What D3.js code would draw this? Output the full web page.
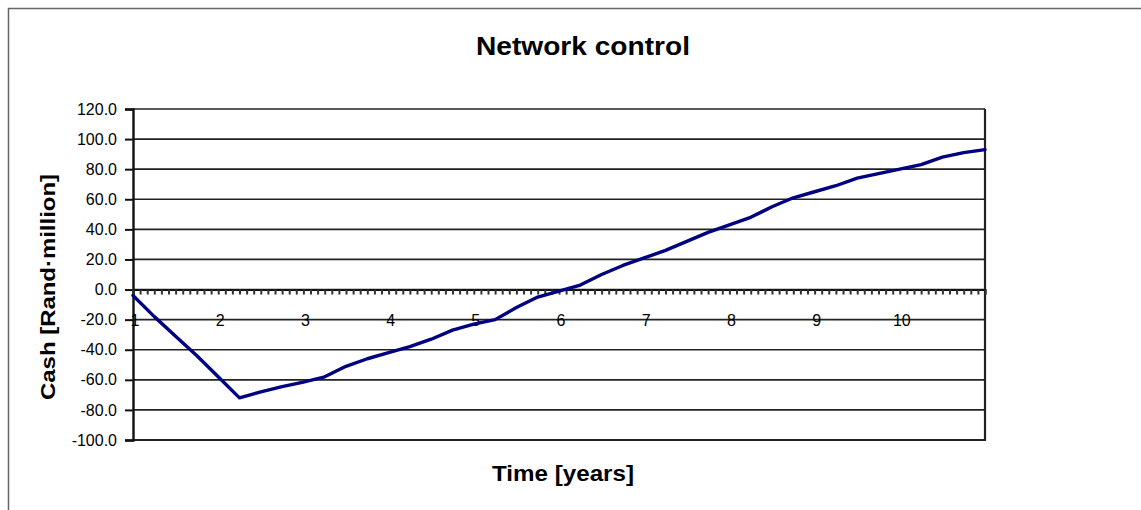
<!DOCTYPE html>
<html>
<head>
<meta charset="utf-8">
<script src="https://cdn.jsdelivr.net/npm/d3@7"></script>
<style>
  html, body { margin: 0; padding: 0; background: #fff; }
  svg { display: block; }
  text { font-family: "Liberation Sans", Arial, sans-serif; fill: #000; }
</style>
</head>
<body>
<svg id="chart" width="1141" height="510"></svg>
<script>
// Cumulative cash position, sampled quarterly (months from start of year 1)
const months = [0, 3, 6, 9, 12, 15, 18, 21, 24, 27, 30, 33, 36, 39, 42, 45, 48, 51, 54, 57,
                60, 63, 66, 69, 72, 75, 78, 81, 84, 87, 90, 93, 96, 99, 102, 105, 108, 111, 114, 117, 120];
const cash = [-4, -18, -31, -44, -58, -72, -68, -64.5, -61.5, -58, -51, -46, -42, -38, -33, -27, -23, -20, -12, -5,
              -1, 3, 10, 16, 21, 26, 32, 38, 43, 48, 55, 61, 65, 69, 74, 77, 80, 83, 88, 91, 93];
const yearLabels = ["1", "2", "3", "4", "5", "6", "7", "8", "9", "10"];
const yTicks = [120, 100, 80, 60, 40, 20, 0, -20, -40, -60, -80, -100];

const title = "Network control";
const xTitle = "Time [years]";
const yTitle = "Cash [Rand\u00B7million]";

const svg = d3.select("#chart");
const plot = { left: 133, right: 985, top: 109, bottom: 440 };

// Outer chart frame (left and top edges visible)
svg.append("path")
  .attr("d", "M8.5,510 L8.5,8.5 L1141,8.5")
  .attr("fill", "none").attr("stroke", "#666").attr("stroke-width", 1.5);

const x = d3.scaleLinear().domain([0, 120]).range([plot.left, plot.right]);
const y = d3.scaleLinear().domain([-100, 120]).range([plot.bottom, plot.top]);

// Horizontal gridlines
svg.append("g")
  .selectAll("line")
  .data(yTicks)
  .join("line")
  .attr("x1", plot.left).attr("x2", plot.right)
  .attr("y1", d => y(d)).attr("y2", d => y(d))
  .attr("stroke", "#222").attr("stroke-width", 1.7);

// Plot border: right and bottom
svg.append("path")
  .attr("d", `M${plot.left},${plot.bottom} L${plot.right},${plot.bottom} L${plot.right},${plot.top}`)
  .attr("fill", "none").attr("stroke", "#222").attr("stroke-width", 2.2);

// Y axis (plain hyphen for negatives)
const fmt = d3.format(".1f");
const yAxis = d3.axisLeft(y)
  .tickValues(yTicks)
  .tickFormat(d => fmt(d).replace("\u2212", "-"))
  .tickSize(8)
  .tickPadding(8);
const gy = svg.append("g").attr("transform", `translate(${plot.left},0)`).call(yAxis);
gy.select(".domain").attr("stroke", "#111").attr("stroke-width", 2.4);
gy.selectAll(".tick line").attr("stroke", "#111").attr("stroke-width", 2);
gy.selectAll(".tick text")
  .attr("font-size", 16)
  .attr("font-family", "'Liberation Sans', Arial, sans-serif")
  .attr("fill", "#111");

// X axis on the zero line with monthly tick marks
const monthTicks = d3.range(0, 121);
const xAxis = d3.axisBottom(x)
  .tickValues(monthTicks)
  .tickFormat("")
  .tickSizeOuter(0)
  .tickSize(5);
const gx = svg.append("g").attr("transform", `translate(0,${y(0)})`).call(xAxis);
gx.select(".domain").attr("stroke", "#111").attr("stroke-width", 2);
gx.selectAll(".tick line").attr("stroke", "#333").attr("stroke-width", 2);

// Year labels, one every 12 months
svg.append("g")
  .selectAll("text")
  .data(yearLabels)
  .join("text")
  .attr("x", (d, i) => x(i * 12) + 2)
  .attr("y", y(-20) + 6)
  .attr("text-anchor", "middle")
  .attr("font-size", 16)
  .attr("fill", "#111")
  .text(d => d);

// Cash line
const line = d3.line()
  .x((d, i) => x(months[i]))
  .y(d => y(d));
svg.append("path")
  .datum(cash)
  .attr("d", line)
  .attr("fill", "none")
  .attr("stroke", "#000080")
  .attr("stroke-width", 3.4)
  .attr("stroke-linejoin", "round")
  .attr("stroke-linecap", "round");

// Titles
svg.append("text")
  .attr("x", 583).attr("y", 55)
  .attr("text-anchor", "middle")
  .attr("font-size", 26).attr("font-weight", "bold")
  .attr("textLength", 214).attr("lengthAdjust", "spacingAndGlyphs")
  .text(title);

svg.append("text")
  .attr("x", 563).attr("y", 481)
  .attr("text-anchor", "middle")
  .attr("font-size", 22).attr("font-weight", "bold")
  .attr("textLength", 142).attr("lengthAdjust", "spacingAndGlyphs")
  .text(xTitle);

svg.append("text")
  .attr("transform", `translate(55,287) rotate(-90)`)
  .attr("text-anchor", "middle")
  .attr("font-size", 21).attr("font-weight", "bold")
  .attr("textLength", 226).attr("lengthAdjust", "spacingAndGlyphs")
  .text(yTitle);
</script>
</body>
</html>
